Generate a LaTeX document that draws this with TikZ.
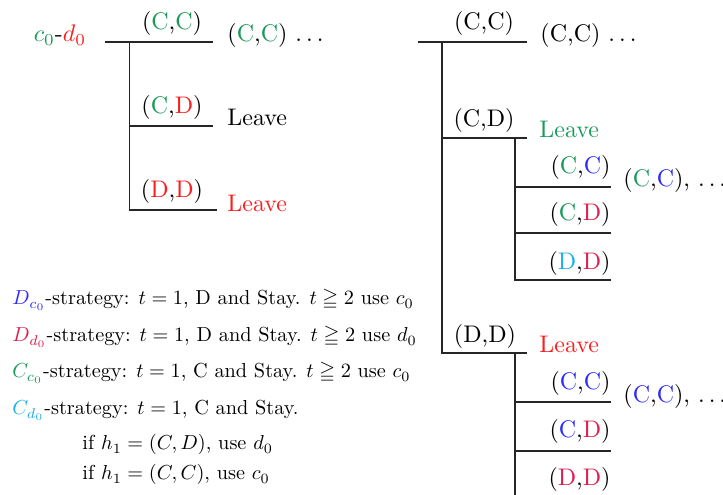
\documentclass[tikz,border=0pt]{standalone}
\usepackage{amssymb}
\usepackage{graphicx}
\definecolor{cgreen}{RGB}{26,154,90}
\definecolor{cred}{RGB}{250,30,30}
\definecolor{ccrim}{RGB}{222,30,80}
\definecolor{cblue}{RGB}{45,45,250}
\definecolor{ccyan}{RGB}{30,175,230}
\newcommand{\kg}[1]{\textcolor{cgreen}{#1}}
\newcommand{\kr}[1]{\textcolor{cred}{#1}}
\newcommand{\km}[1]{\textcolor{ccrim}{#1}}
\newcommand{\kb}[1]{\textcolor{cblue}{#1}}
\newcommand{\kc}[1]{\textcolor{ccyan}{#1}}
\newcommand{\stx}[1]{\scalebox{0.845}{#1}}
\begin{document}
\begin{tikzpicture}[x=0.41667pt,y=-0.41667pt,
  branch/.style={draw=black!85, line width=0.7pt},
  lb/.style={inner sep=0pt, anchor=base},
  lbw/.style={inner sep=0pt, anchor=base west},
  lbe/.style={inner sep=0pt, anchor=base east},
  strat/.style={inner sep=0pt, anchor=base west}]
\useasboundingbox (0,0) rectangle (723,495);

% ---------------- left tree ----------------
\coordinate (L0) at (105,41.7);
\coordinate (L1) at (213,41.7);
\coordinate (LV) at (129.5,41.7);
\coordinate (LB1) at (129.5,125.7);
\coordinate (LE1) at (213,125.7);
\coordinate (LB2) at (129.5,210);
\coordinate (LE2) at (216.5,210);
\draw[branch] (L0) -- (L1);
\draw[branch] (LV) -- (LB2) -- (LE2);
\draw[branch] (LB1) -- (LE1);

\node[lb] (lroot) at (60,42) {\kg{$c_0$}-\kr{$d_0$}};
\node[lb] (lcc) at (172,30) {(\kg{C},\kg{C})};
\node[lbw] (lccn) at (227,42) {(\kg{C},\kg{C}) $\ldots$};
\node[lb] (lcd) at (172,114) {(\kg{C},\kr{D})};
\node[lbw] (lleave1) at (227,126) {Leave};
\node[lb] (ldd) at (172,198) {(\kr{D},\kr{D})};
\node[lbw] (lleave2) at (227,212) {\kr{Leave}};

% ---------------- right tree ----------------
\coordinate (R0) at (418,41.7);
\coordinate (R1) at (527,41.7);
\coordinate (RV) at (442,41.7);
\coordinate (RB1) at (442,137.7);
\coordinate (RE1) at (527,137.7);
\coordinate (RB2) at (442,353);
\coordinate (RE2) at (527,353);
\draw[branch] (R0) -- (R1);
\draw[branch] (RV) -- (RB2) -- (RE2);
\draw[branch] (RB1) -- (RE1);

\node[lb] (rcc) at (484,30) {(C,C)};
\node[lbw] (rccn) at (540,42) {(C,C) $\ldots$};
\node[lb] (rcd) at (484,127) {(C,D)};
\node[lbw] (rleave1) at (539,138) {\kg{Leave}};
\node[lb] (rdd) at (485,343) {(D,D)};
\node[lbw] (rleave2) at (539,353) {\kr{Leave}};

% sub-tree after (C,D)
\coordinate (S1V) at (515,137.7);
\coordinate (S1a) at (515,186.7);
\coordinate (S1ae) at (611,186.7);
\coordinate (S1b) at (515,233.3);
\coordinate (S1be) at (611,233.3);
\coordinate (S1c) at (515,280);
\coordinate (S1ce) at (611,280);
\draw[branch] (S1V) -- (S1c) -- (S1ce);
\draw[branch] (S1a) -- (S1ae);
\draw[branch] (S1b) -- (S1be);
\node[lbe] (s1cc) at (611,174) {(\kg{C},\kb{C})};
\node[lbw] (s1ccn) at (623,187) {(\kg{C},\kb{C}), $\ldots$};
\node[lbe] (s1cd) at (611,221) {(\kg{C},\km{D})};
\node[lbe] (s1dd) at (611,270) {(\kc{D},\km{D})};

% sub-tree after (D,D)
\coordinate (S2V) at (515,353);
\coordinate (S2end) at (515,495);
\coordinate (S2a) at (515,402);
\coordinate (S2ae) at (611,402);
\coordinate (S2b) at (515,450.7);
\coordinate (S2be) at (611,450.7);
\draw[branch] (S2V) -- (S2end);
\draw[branch] (S2a) -- (S2ae);
\draw[branch] (S2b) -- (S2be);
\node[lbe] (s2cc) at (611,390) {(\kb{C},\kb{C})};
\node[lbw] (s2ccn) at (623,403) {(\kb{C},\kb{C}), $\ldots$};
\node[lbe] (s2cd) at (611,438) {(\kb{C},\km{D})};
\node[lbe] (s2dd) at (611,486) {(\km{D},\km{D})};

% ---------------- strategies ----------------
\node[strat] (st1) at (12,305) {\stx{\kb{$D_{c_0}$}-strategy: $t=1$, D and Stay. $t\geqq 2$ use $c_0$}};
\node[strat] (st2) at (12,342) {\stx{\km{$D_{d_0}$}-strategy: $t=1$, D and Stay. $t\geqq 2$ use $d_0$}};
\node[strat] (st3) at (12,378) {\stx{\kg{$C_{c_0}$}-strategy: $t=1$, C and Stay. $t\geqq 2$ use $c_0$}};
\node[strat] (st4) at (12,415) {\stx{\kc{$C_{d_0}$}-strategy: $t=1$, C and Stay.}};
\node[strat] (st5) at (82,450) {\stx{if $h_1=(C,D)$, use $d_0$}};
\node[strat] (st6) at (82,480) {\stx{if $h_1=(C,C)$, use $c_0$}};
\end{tikzpicture}
\end{document}
